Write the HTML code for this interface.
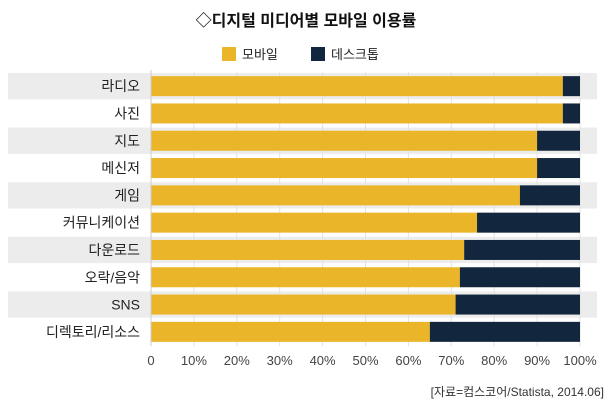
<!DOCTYPE html>
<html><head><meta charset="utf-8"><style>
body{margin:0;background:#fff;font-family:"Liberation Sans","Noto Sans CJK KR",sans-serif;}
#c{position:relative;width:612px;height:404px;overflow:hidden;}
</style></head><body>
<div id="c">
<svg width="612" height="404">
<text x="306" y="26" text-anchor="middle" font-size="16" font-weight="bold" fill="#111">◇디지털 미디어별 모바일 이용률</text>
<g>
<rect x="222" y="47" width="14" height="14" fill="#eab528"/>
<text x="242" y="59" font-size="13" fill="#222">모바일</text>
<rect x="311" y="47" width="14" height="14" fill="#12263d"/>
<text x="331" y="59" font-size="13" fill="#222">데스크톱</text>
</g>
<g id="bands"></g><g id="grid"></g><g id="bars"></g><g id="labels"></g><g id="ticks"></g>
<line x1="151" y1="70" x2="151" y2="346" stroke="#ccc"/>
<text x="604" y="396" text-anchor="end" font-size="12" fill="#333">[자료=컴스코어/Statista, 2014.06]</text>
</svg>
</div>
<script>
const categories=["라디오","사진","지도","메신저","게임","커뮤니케이션","다운로드","오락/음악","SNS","디렉토리/리소스"];
const mobile=[96,96,90,90,86,76,73,72,71,65];
const tickLabels=["0","10%","20%","30%","40%","50%","60%","70%","80%","90%","100%"];
const tickValues=[0,10,20,30,40,50,60,70,80,90,100];
const NS="http://www.w3.org/2000/svg";
const x0=151,x1=580,yTop=72.5,step=27.3,bh=20;
const xs=v=>x0+(x1-x0)*v/100;
const yc=i=>yTop+step*i+step/2;
function mk(t,a,p){const e=document.createElementNS(NS,t);for(const k in a)e.setAttribute(k,a[k]);p.appendChild(e);return e;}
const bands=document.getElementById('bands'),grid=document.getElementById('grid'),bars=document.getElementById('bars'),labels=document.getElementById('labels'),ticks=document.getElementById('ticks');
categories.forEach((c,i)=>{
 if(i%2===0){const b=mk('rect',{x:8,y:yc(i)-step/2+0.5,width:589,height:step-1,fill:'#ececec'},bands);
 
 }
});
tickValues.forEach((v,i)=>{
 const g=mk('line',{x1:xs(v),x2:xs(v),y1:72,y2:346,stroke:'#e2e2e2'},grid);
 
 
 const t=mk('text',{x:xs(v),y:365,'text-anchor':'middle','font-size':13,fill:'#444'},ticks);
 t.textContent=tickLabels[i];
 
 
});
categories.forEach((c,i)=>{
 const y=yc(i)-bh/2;
 const m=mk('rect',{x:xs(0),y:y,width:xs(mobile[i])-xs(0),height:bh,fill:'#eab528'},bars);
 
 
 const d=mk('rect',{x:xs(mobile[i]),y:y,width:xs(100)-xs(mobile[i]),height:bh,fill:'#12263d'},bars);
 
 
 const t=mk('text',{x:140,y:yc(i)+5,'text-anchor':'end','font-size':14,fill:'#222'},labels);
 t.textContent=c;
 
 
});
</script>
</body></html>
